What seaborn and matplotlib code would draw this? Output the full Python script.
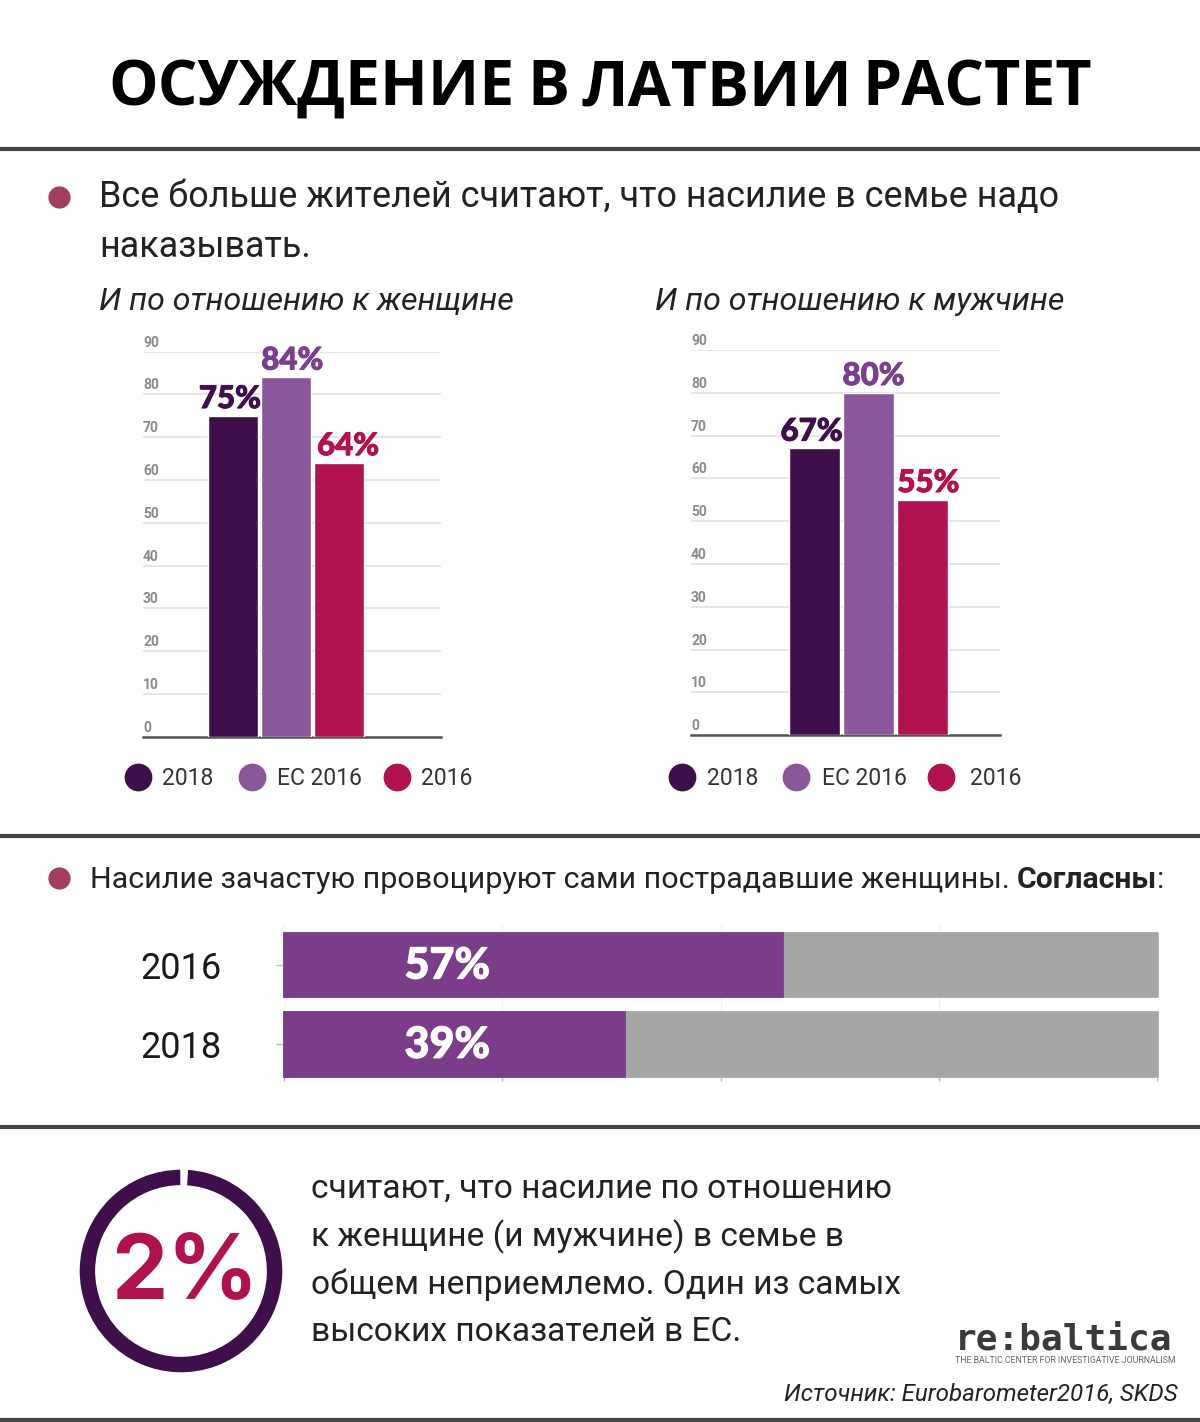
import matplotlib
matplotlib.use("Agg")
from matplotlib import pyplot as plt
from matplotlib import patheffects as pe
from matplotlib.lines import Line2D
from matplotlib.transforms import ScaledTranslation
import pandas as pd
import seaborn as sns

W, H = 1200, 1422

# bar chart data
series = ["2018", "ЕС 2016", "2016"]
women = [75, 84, 64]
men = [67, 80, 55]
y_ticks = [0, 10, 20, 30, 40, 50, 60, 70, 80, 90]
colors = ["#3F0F4C", "#8A579B", "#B0124F"]
label_colors = ["#3F0F4C", "#7A3F8E", "#B0124F"]

# agreement bars
years = ["2016", "2018"]
agree = [57, 39]
total = [100, 100]

# donut
ring_values = [1, 99]

sns.set_theme(style="white")
plt.rcParams["font.family"] = ["Roboto", "DejaVu Sans"]

fig = plt.figure(figsize=(W / 100, H / 100), dpi=100, facecolor="white")


def px_axes(x0, y0, x1, y1):
    # axes from pixel box, origin top left
    return fig.add_axes([x0 / W, 1 - y1 / H, (x1 - x0) / W, (y1 - y0) / H])


def txt(x, y, s, size, **kw):
    kw.setdefault("color", "#222222")
    kw.setdefault("va", "baseline")
    return fig.text(x / W, 1 - y / H, s, fontsize=size, **kw)


def hline(y, lw=3.0):
    fig.add_artist(Line2D([0, 1], [1 - y / H] * 2, transform=fig.transFigure,
                          color="#444444", lw=lw))


def dot(x, y, color, size):
    fig.add_artist(Line2D([x / W], [1 - y / H], transform=fig.transFigure, marker="o",
                          color=color, ms=size, mew=0, ls=""))


def plot_column(box, values, xlim, offsets, legend_x, legend_text_x, legend_y):
    ax = px_axes(*box)
    df = pd.DataFrame({"group": [""] * 3, "series": series, "value": values})
    sns.barplot(data=df, x="group", y="value", hue="series", hue_order=series,
                palette=colors, saturation=1, width=0.8, gap=0.06, legend=False,
                ax=ax, zorder=3)
    ax.set_xlim(*xlim)
    ax.set_ylim(0, 90)
    ax.set(xlabel=None, ylabel=None)
    ax.set_xticks([])
    ax.set_yticks(y_ticks)
    ax.grid(axis="y", color="#E6E6E6", lw=1.4)
    ax.set_axisbelow(True)
    ax.tick_params(axis="y", length=0, pad=0, labelsize=10, labelcolor="#8A8A8A")
    for lab in ax.get_yticklabels():
        lab.set_ha("left")
        lab.set_va("bottom")
        lab.set_fontweight("bold")
        lab.set_x(0)
        lab.set_transform(ax.get_yaxis_transform() + ScaledTranslation(0, 1.5 / 72, fig.dpi_scale_trans))
    sns.despine(ax=ax, left=True, top=True, right=True)
    ax.spines["bottom"].set_color("#555555")
    ax.spines["bottom"].set_linewidth(1.8)

    for cont, c, off in zip(ax.containers, label_colors, offsets):
        bar = cont[0]
        ax.annotate(f"{bar.get_height():g}%", (bar.get_x() + bar.get_width() / 2, bar.get_height()),
                    xytext=(off, 2), textcoords="offset points", ha="center", va="bottom",
                    color=c, fontsize=22.5, fontweight="black", family="Lato",
                    annotation_clip=False, zorder=5,
                    path_effects=[pe.withStroke(linewidth=0.7, foreground=c)])

    for name, c, x, tx in zip(series, colors, legend_x, legend_text_x):
        dot(x, legend_y, c, 20)
        txt(tx, legend_y + 8, name, 16.5, color="#333333")
    return ax


# header, words placed one by one because the word gaps are narrow
for word, x in zip(["ОСУЖДЕНИЕ", "В", "ЛАТВИИ", "РАСТЕТ"], [108, 527, 582, 862]):
    txt(x, 105, word, 45, fontweight="bold", family="Open Sans", color="#000000")
hline(149)
hline(836)
hline(1127)
hline(1420)

# top section text
dot(59, 197, "#A23F5F", 16)
txt(99, 207, "Все больше жителей считают, что насилие в семье надо", 25.9)
txt(99, 257, "наказывать.", 25.9)
txt(99, 310, "И по отношению к женщине", 23.15, style="italic")
txt(655, 310, "И по отношению к мужчине", 23.15, style="italic")

plot_column((143, 351.7, 441, 736.7), women, (-0.72, 0.78), [-2.2, 4.5, 6.5],
            [138, 252, 397], [162, 277, 421], 777)
plot_column((691, 350, 1000, 735.3), men, (-0.877, 0.649), [-2.2, 3.6, 4.3],
            [682, 796, 941], [707, 822, 970], 777)

# middle section
dot(59, 878, "#A23F5F", 16)
txt(90, 888, "Насилие зачастую провоцируют сами пострадавшие женщины.", 21.9)
txt(1017, 888, "Согласны", 21.7, fontweight="bold")
txt(1157, 888, ":", 21.7)

ax2 = px_axes(284, 925, 1157, 1076.5)
sns.barplot(x=total, y=years, order=years, color="#A6A6A6", saturation=1, width=0.8,
            orient="h", ax=ax2, zorder=2, edgecolor="#A6A6A6", linewidth=2.0)
for p in ax2.patches:
    p.set_joinstyle("round")
    p.set_clip_on(False)
n_grey = len(ax2.patches)
sns.barplot(x=agree, y=years, order=years, color="#7B3C89", saturation=1, width=0.8,
            orient="h", ax=ax2, zorder=3, edgecolor="#7B3C89", linewidth=2.0)
for p in ax2.patches[n_grey:]:
    p.set_clip_on(False)
ax2.set_xlim(0, 100)
ax2.set_ylim(1.4115, -0.5)
ax2.set(xlabel=None, ylabel=None)
ax2.set_xticks([0, 25, 50, 75, 100])
ax2.set_xticklabels([])
ax2.grid(axis="x", color="#F2F2F2", lw=1)
ax2.tick_params(axis="x", length=3, width=1, color="#BBBBBB", bottom=True)
ax2.tick_params(axis="y", length=6, width=1, color="#BBBBBB", left=True, pad=38.7,
                labelsize=26, labelcolor="#1A1A1A")
sns.despine(ax=ax2, left=True, bottom=True, top=True, right=True)
for i, v in enumerate(agree):
    ax2.text(18.7, i + 0.012, f"{v}%", color="white", ha="center", va="center", fontsize=31,
             fontweight="black", family="Lato", zorder=5,
             path_effects=[pe.withStroke(linewidth=0.8, foreground="white")])

# bottom section
ax3 = px_axes(71, 1161, 291, 1381)
ax3.pie(ring_values, colors=["white", "#3F0F4C"], startangle=90, counterclock=False,
        radius=1.0, wedgeprops=dict(width=0.165))
ax3.set_xlim(-110 / 102, 110 / 102)
ax3.set_ylim(-110 / 102, 110 / 102)
ax3.text(0.04, -0.04, "2%", ha="center", va="center", fontsize=64.5, fontweight="bold",
         family="Inter", color="#B0124F")

body = ["считают, что насилие по отношению", "к женщине (и мужчине) в семье в",
        "общем неприемлемо. Один из самых", "высоких показателей в ЕС."]
for s, y in zip(body, [1198, 1246, 1294, 1341]):
    txt(311, y, s, 24.1)

txt(955, 1349, "re:baltica", 26, family="DejaVu Sans Mono", fontweight="bold", color="#3A3A3A")
txt(955, 1363, "THE BALTIC CENTER FOR INVESTIGATIVE JOURNALISM", 6.3, color="#666666")
txt(1178, 1401, "Источник: Eurobarometer2016, SKDS", 17.4, style="italic", ha="right")

fig.savefig("out.png", dpi=100, facecolor="white")
